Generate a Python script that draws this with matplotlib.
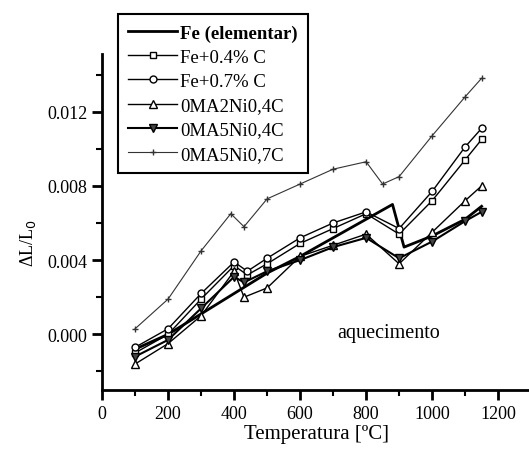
import matplotlib
matplotlib.use("Agg")
import matplotlib.pyplot as plt
from matplotlib.ticker import MultipleLocator, FixedLocator

plt.rcParams['font.family'] = ['Liberation Serif', 'DejaVu Serif']

# temperatures (C) and dL/L0
t_fe = [100, 200, 300, 400, 500, 600, 700, 800, 880, 915, 1000, 1100, 1150]
fe = [-0.0008, 0.0000, 0.0011, 0.0022, 0.0033, 0.0042, 0.0052, 0.0062, 0.0070, 0.0047, 0.0053, 0.0062, 0.0069]

t_c = [100, 200, 300, 400, 440, 500, 600, 700, 800, 900, 1000, 1100, 1150]
fe04c = [-0.0010, 0.0000, 0.0019, 0.0037, 0.0032, 0.0038, 0.0049, 0.0057, 0.0065, 0.0054, 0.0072, 0.0094, 0.0105]
fe07c = [-0.0007, 0.0003, 0.0022, 0.0039, 0.0034, 0.0041, 0.0052, 0.0060, 0.0066, 0.0057, 0.0077, 0.0101, 0.0111]

t_ni = [100, 200, 300, 400, 430, 500, 600, 700, 800, 900, 1000, 1100, 1150]
ma2ni04c = [-0.0016, -0.0005, 0.0010, 0.0034, 0.0020, 0.0025, 0.0042, 0.0048, 0.0054, 0.0038, 0.0055, 0.0072, 0.0080]
ma5ni04c = [-0.0012, -0.0003, 0.0014, 0.0031, 0.0028, 0.0034, 0.0040, 0.0047, 0.0052, 0.0041, 0.0050, 0.0061, 0.0066]

t_top = [100, 200, 300, 390, 430, 500, 600, 700, 800, 850, 900, 1000, 1100, 1150]
ma5ni07c = [0.0003, 0.0019, 0.0045, 0.0065, 0.0058, 0.0073, 0.0081, 0.0089, 0.0093, 0.0081, 0.0085, 0.0107, 0.0128, 0.0138]

fig = plt.figure(figsize=(5.29, 4.52), dpi=100)
ax = fig.add_axes([0.193, 0.135, 0.811, 0.743])

ax.plot(t_fe, fe, color='black', lw=2.0, label='Fe (elementar)')
ax.plot(t_c, fe04c, color='black', lw=1.0, marker='s', ms=5, mfc='white', label='Fe+0.4% C')
ax.plot(t_c, fe07c, color='black', lw=1.0, marker='o', ms=5, mfc='white', label='Fe+0.7% C')
ax.plot(t_ni, ma2ni04c, color='black', lw=1.0, marker='^', ms=5.5, mfc='white', label='0MA2Ni0,4C')
ax.plot(t_ni, ma5ni04c, color='black', lw=1.5, marker='v', ms=5.5, mfc='#444444', label='0MA5Ni0,4C')
ax.plot(t_top, ma5ni07c, color='#333333', lw=0.8, marker='+', ms=5, label='0MA5Ni0,7C')

ax.set_xlim(0, 1300)
ax.set_ylim(-0.003, 0.0151)
ax.xaxis.set_major_locator(FixedLocator([0, 200, 400, 600, 800, 1000, 1200]))
ax.xaxis.set_minor_locator(MultipleLocator(100))
ax.yaxis.set_major_locator(FixedLocator([0.000, 0.004, 0.008, 0.012]))
ax.yaxis.set_minor_locator(MultipleLocator(0.002))
ax.set_yticklabels(['0.000', '0.004', '0.008', '0.012'])

for s in ['top', 'right']:
    ax.spines[s].set_visible(False)
for s in ['left', 'bottom']:
    ax.spines[s].set_linewidth(2.0)
ax.tick_params(which='major', direction='out', length=7, width=2, labelsize=13)
ax.tick_params(which='minor', direction='out', length=4, width=1.5)

ax.set_xlabel('Temperatura [ºC]', fontsize=15, labelpad=2)
ax.set_ylabel('ΔL/L$_0$', fontsize=13)
ax.yaxis.set_label_coords(-0.15, 0.44)
ax.text(867, 0.0001, 'aquecimento', fontsize=14.5, ha='center', va='center')

leg = ax.legend(loc='upper left', bbox_to_anchor=(0.223, 0.967), bbox_transform=fig.transFigure,
                fontsize=13.5, handlelength=2.6, fancybox=False, framealpha=1,
                edgecolor='black', borderpad=0.55, labelspacing=0.38, handletextpad=0.15,
                borderaxespad=0)
leg.get_frame().set_linewidth(1.5)
leg.get_texts()[0].set_fontweight('bold')

fig.savefig('out.png', dpi=100)
